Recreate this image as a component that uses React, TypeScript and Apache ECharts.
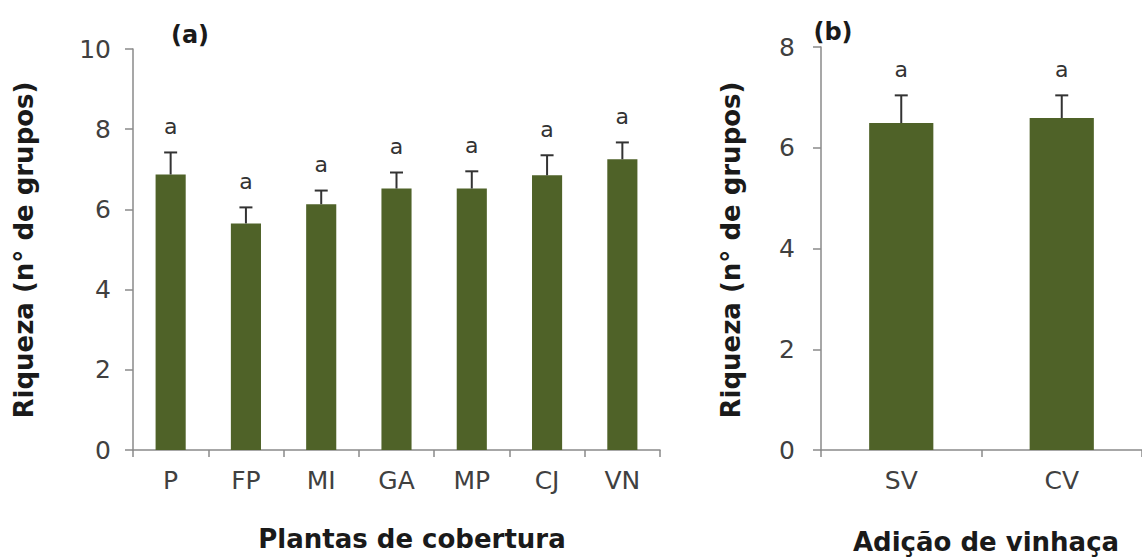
import React, { useEffect, useRef } from "react";
import * as echarts from "echarts";

const categoriesA = ["P", "FP", "MI", "GA", "MP", "CJ", "VN"];
const meansA = [6.87, 5.65, 6.13, 6.52, 6.52, 6.85, 7.25];
const errorsA = [0.55, 0.4, 0.34, 0.4, 0.43, 0.5, 0.42];
const lettersA = ["a", "a", "a", "a", "a", "a", "a"];

const categoriesB = ["SV", "CV"];
const meansB = [6.49, 6.59];
const errorsB = [0.55, 0.45];
const lettersB = ["a", "a"];

const yTicksA = { min: 0, max: 10, interval: 2 };
const yTicksB = { min: 0, max: 8, interval: 2 };

const FONT = "DejaVu Sans";
const BAR = "#4F6228";
const ERR = "#333333";
const AXIS = "#8a8a8a";
const TXT = "#404040";

function errorSeries(
  idx: number,
  means: number[],
  errors: number[],
  letters: string[]
) {
  return {
    type: "custom",
    xAxisIndex: idx,
    yAxisIndex: idx,
    z: 5,
    data: means.map((m, i) => [i, m, m + errors[i]]),
    renderItem: (params: any, api: any) => {
      const i = api.value(0);
      const base = api.coord([i, api.value(1)]);
      const top = api.coord([i, api.value(2)]);
      return {
        type: "group",
        children: [
          {
            type: "line",
            shape: { x1: base[0], y1: base[1], x2: top[0], y2: top[1] },
            style: { stroke: ERR, lineWidth: 2 },
          },
          {
            type: "line",
            shape: { x1: top[0] - 6.5, y1: top[1], x2: top[0] + 6.5, y2: top[1] },
            style: { stroke: ERR, lineWidth: 2 },
          },
          {
            type: "text",
            x: top[0],
            y: top[1] - 26,
            style: {
              text: letters[params.dataIndex],
              fontSize: 22,
              fontFamily: FONT,
              fill: "#333333",
              align: "center",
              verticalAlign: "middle",
            },
          },
        ],
      };
    },
  };
}

function xAxisCfg(idx: number, cats: string[]) {
  return {
    type: "category",
    gridIndex: idx,
    data: cats,
    axisLine: { show: true, lineStyle: { color: AXIS, width: 1.5 } },
    axisTick: { show: true, length: 7, lineStyle: { color: AXIS, width: 1.5 } },
    axisLabel: { color: TXT, fontSize: 25, fontFamily: FONT, margin: 18 },
    splitLine: { show: false },
  };
}

function yAxisCfg(idx: number, t: { min: number; max: number; interval: number }, margin: number) {
  return {
    type: "value",
    gridIndex: idx,
    min: t.min,
    max: t.max,
    interval: t.interval,
    axisLine: { show: true, lineStyle: { color: AXIS, width: 1.5 } },
    axisTick: { show: true, length: 8, lineStyle: { color: AXIS, width: 1.5 } },
    axisLabel: { color: TXT, fontSize: 25, fontFamily: FONT, margin },
    splitLine: { show: false },
  };
}

export default function App() {
  const ref = useRef<HTMLDivElement>(null);
  useEffect(() => {
    if (!ref.current) return;
    const chart = echarts.init(ref.current, undefined, { renderer: "svg" });
    const boldText = (text: string, x: number, y: number, size: number, rotate = 0) => ({
      type: "text",
      x,
      y,
      rotation: rotate,
      style: {
        text,
        fontSize: size,
        fontWeight: "bold",
        fontFamily: FONT,
        fill: "#1a1a1a",
        align: "center",
        verticalAlign: "middle",
      },
    });
    chart.setOption({
      animation: false,
      backgroundColor: "#ffffff",
      grid: [
        { left: 133, top: 49, width: 527, height: 401 },
        { left: 821, top: 47, width: 330, height: 403 },
      ],
      xAxis: [xAxisCfg(0, categoriesA), xAxisCfg(1, categoriesB)],
      yAxis: [yAxisCfg(0, yTicksA, 22), yAxisCfg(1, yTicksB, 26)],
      series: [
        {
          type: "bar",
          xAxisIndex: 0,
          yAxisIndex: 0,
          data: meansA,
          barWidth: "40%",
          itemStyle: { color: BAR },
        },
        {
          type: "bar",
          xAxisIndex: 1,
          yAxisIndex: 1,
          data: meansB,
          barWidth: "40%",
          itemStyle: { color: BAR },
        },
        errorSeries(0, meansA, errorsA, lettersA),
        errorSeries(1, meansB, errorsB, lettersB),
      ],
      graphic: [
        boldText("(a)", 190, 35, 24),
        boldText("(b)", 833, 32, 24),
        boldText("Riqueza (n° de grupos)", 24, 250, 26, Math.PI / 2),
        boldText("Riqueza (n° de grupos)", 731, 250, 26, Math.PI / 2),
        boldText("Plantas de cobertura", 412, 539, 26),
        boldText("Adição de vinhaça", 986, 542, 26),
      ],
    });
    return () => chart.dispose();
  }, []);
  return (
    <div
      ref={ref}
      style={{ position: "fixed", left: 0, top: 0, width: 1142, height: 560, background: "#fff" }}
    />
  );
}
